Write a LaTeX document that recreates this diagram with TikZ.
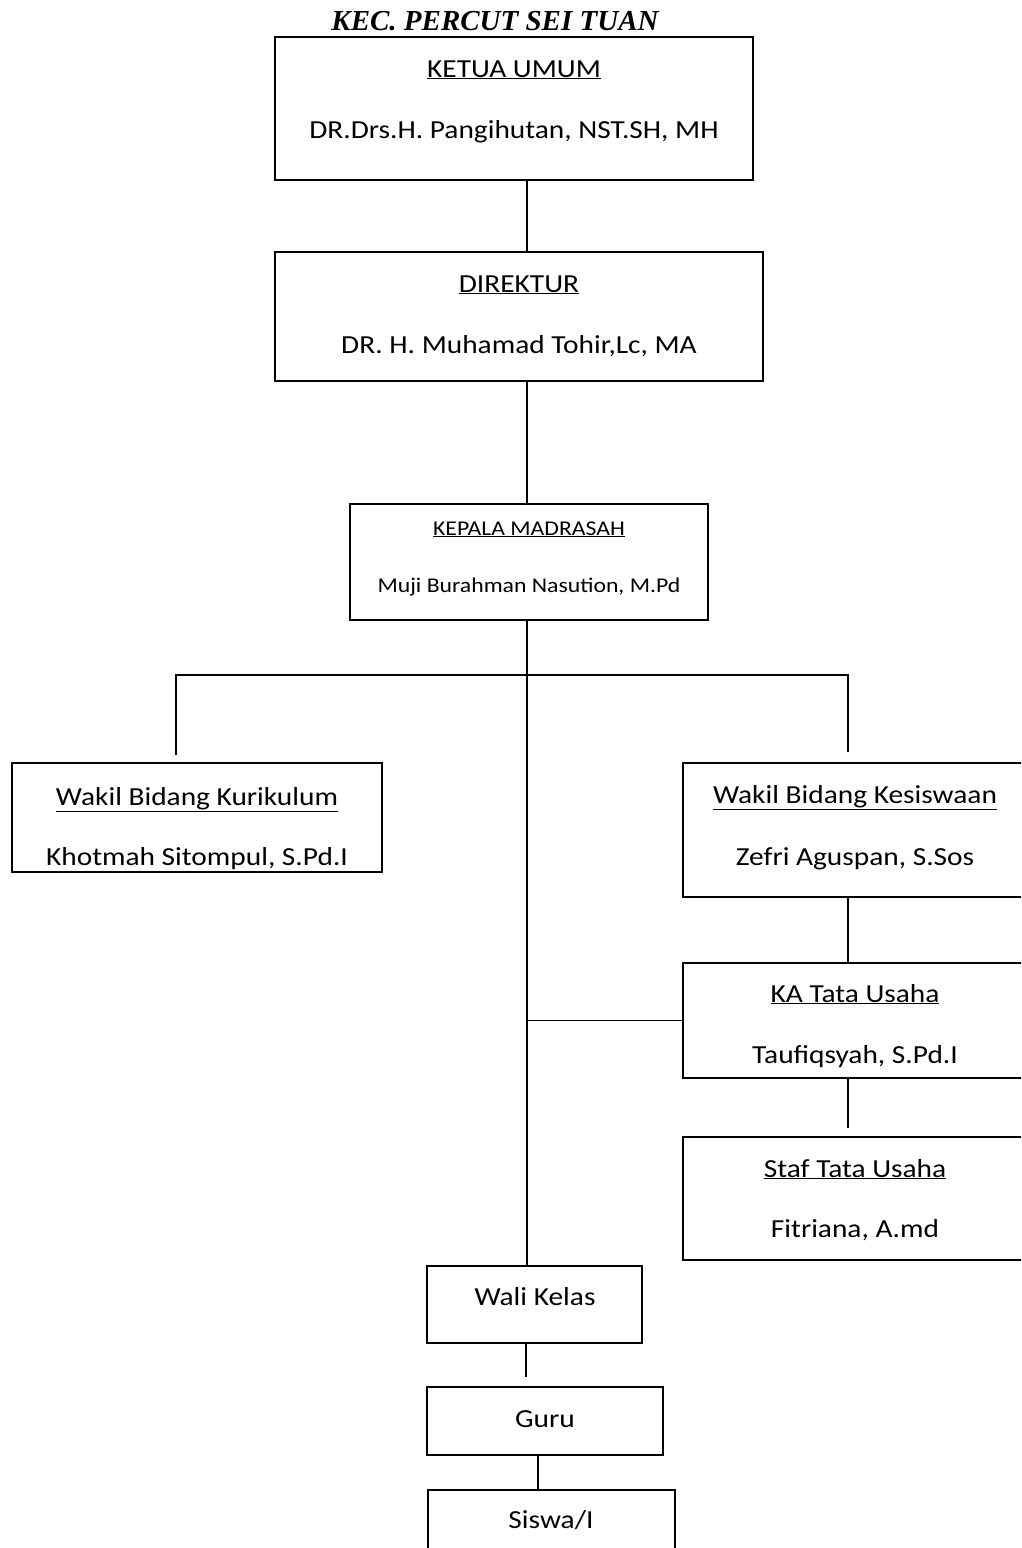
\documentclass[tikz,border=0pt]{standalone}
\usepackage{fontspec}
\setmainfont{Carlito}[FakeStretch=1.13]
\newfontfamily\titlefont{Liberation Serif}
\begin{document}
\begin{tikzpicture}[x=1pt,y=-1pt,
  box/.style={draw, line width=1.8pt, rectangle, inner sep=0pt},
  conn/.style={line width=1.5pt},
  big/.style={anchor=base, inner sep=0pt, font=\fontsize{26}{30}\selectfont},
  small/.style={anchor=base, inner sep=0pt, font=\fontsize{21}{25}\selectfont},
  ttl/.style={anchor=base, inner sep=0pt, font=\titlefont\bfseries\itshape\fontsize{29}{33}\selectfont}]
\useasboundingbox (0,0) rectangle (1021,1548);
\clip (0,0) rectangle (1021,1548);

% title
\node[ttl] (title) at (495,30) {KEC. PERCUT SEI TUAN};

% boxes
\node[box, minimum width=478pt, minimum height=143pt] (ketua) at (514,108.5) {};
\node[box, minimum width=488pt, minimum height=129pt] (direktur) at (519,316.5) {};
\node[box, minimum width=358pt, minimum height=116pt] (kepala) at (529,562) {};
\node[box, minimum width=370pt, minimum height=109pt] (kurikulum) at (197,817.5) {};
\node[box, minimum width=344pt, minimum height=134pt] (kesiswaan) at (855,830) {};
\node[box, minimum width=344pt, minimum height=115pt] (ka) at (855,1020.5) {};
\node[box, minimum width=344pt, minimum height=123pt] (staf) at (855,1198.5) {};
\node[box, minimum width=215pt, minimum height=77pt] (wali) at (534.5,1304.5) {};
\node[box, minimum width=236pt, minimum height=68pt] (guru) at (545,1421) {};
\node[box, minimum width=247pt, minimum height=90pt] (siswa) at (551.5,1535) {};

% texts
\node[big] (t1a) at (514,77) {\underline{KETUA UMUM}};
\node[big] (t1b) at (514,138) {DR.Drs.H. Pangihutan, NST.SH, MH};
\node[big] (t2a) at (519,292) {\underline{DIREKTUR}};
\node[big] (t2b) at (519,353) {DR. H. Muhamad Tohir,Lc, MA};
\node[small] (t3a) at (529,535) {\underline{KEPALA MADRASAH}};
\node[small] (t3b) at (529,592) {Muji Burahman Nasution, M.Pd};
\node[big] (t4a) at (197,805) {\underline{Wakil Bidang Kurikulum}};
\node[big] (t4b) at (197,865) {Khotmah Sitompul, S.Pd.I};
\node[big] (t5a) at (855,803) {\underline{Wakil Bidang Kesiswaan}};
\node[big] (t5b) at (855,865) {Zefri Aguspan, S.Sos};
\node[big] (t6a) at (855,1002) {\underline{KA Tata Usaha}};
\node[big] (t6b) at (855,1063) {Taufiqsyah, S.Pd.I};
\node[big] (t7a) at (855,1177) {\underline{Staf Tata Usaha}};
\node[big] (t7b) at (855,1237) {Fitriana, A.md};
\node[big] (t8) at (535,1305) {Wali Kelas};
\node[big] (t9) at (545,1427) {Guru};
\node[big] (t10) at (551,1528) {Siswa/I};

% helper coordinates
\coordinate (spine) at (527,0);
\coordinate (hL) at (176,675);
\coordinate (hR) at (848,675);
\coordinate (lk) at (176,755);
\coordinate (rk) at (848,752);
\coordinate (kaend) at (848,1128);
\coordinate (waliend) at (526,1377);
\coordinate (gs) at (538,0);

% connectors
\draw[conn] (ketua.south -| spine) -- (direktur.north -| spine);
\draw[conn] (direktur.south -| spine) -- (kepala.north -| spine);
\draw[conn] (kepala.south -| spine) -- (wali.north -| spine);
\draw[conn] (lk) -- (hL) -- (hR) -- (rk);
\draw[conn] (spine |- ka.west) -- (ka.west);
\draw[conn] (kesiswaan.south -| hR) -- (ka.north -| hR);
\draw[conn] (ka.south -| kaend) -- (kaend);
\draw[conn] (wali.south -| waliend) -- (waliend);
\draw[conn] (guru.south -| gs) -- (siswa.north -| gs);
\end{tikzpicture}
\end{document}
